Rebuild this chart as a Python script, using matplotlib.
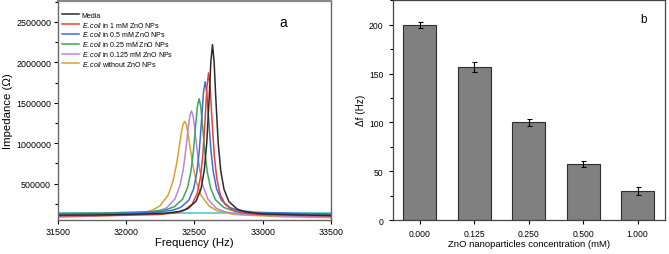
import matplotlib
matplotlib.use("Agg")
import matplotlib.pyplot as plt
from matplotlib.ticker import MultipleLocator

plt.rcParams["font.family"] = ["Liberation Sans", "DejaVu Sans"]
plt.rcParams["mathtext.fontset"] = "custom"
plt.rcParams["mathtext.it"] = "Liberation Sans:italic"
plt.rcParams["mathtext.rm"] = "Liberation Sans"

# --- panel a: impedance spectra (Hz, ohm) ---
media_f = [31500, 31912, 32272, 32392, 32452, 32512, 32548, 32572, 32590, 32608, 32620, 32632,
           32644, 32656, 32674, 32692, 32716, 32752, 32812, 32872, 32992, 33352, 33500]
media_z = [110000, 115000, 131000, 156000, 191000, 284000, 437000, 669000, 1005000, 1570000, 2009000, 2220000,
           2004000, 1565000, 1000000, 664000, 432000, 279000, 186000, 151000, 126000, 110000, 105000]

mm1_f = [31500, 31883, 32243, 32363, 32423, 32483, 32519, 32543, 32561, 32579, 32591, 32603,
         32615, 32627, 32645, 32663, 32687, 32723, 32783, 32843, 32963, 33323, 33500]
mm1_z = [100000, 104000, 118000, 139000, 168000, 246000, 374000, 569000, 850000, 1325000, 1693000, 1870000,
         1693000, 1325000, 850000, 569000, 374000, 246000, 168000, 139000, 118000, 104000, 100000]

mm05_f = [31500, 31858, 32218, 32338, 32398, 32458, 32494, 32518, 32536, 32554, 32566, 32578,
          32590, 32602, 32620, 32638, 32662, 32698, 32758, 32818, 32938, 33298, 33500]
mm05_z = [125000, 130000, 146000, 171000, 205000, 294000, 437000, 642000, 920000, 1340000, 1629000, 1760000,
          1629000, 1340000, 920000, 642000, 437000, 294000, 205000, 171000, 146000, 130000, 125000]

mm025_f = [31500, 31814, 32174, 32294, 32354, 32414, 32450, 32474, 32492, 32510, 32522, 32534,
           32546, 32558, 32576, 32594, 32618, 32654, 32714, 32774, 32894, 33254, 33500]
mm025_z = [130000, 136000, 153000, 180000, 216000, 310000, 455000, 652000, 901000, 1246000, 1462000, 1550000,
           1452000, 1236000, 891000, 642000, 445000, 300000, 206000, 170000, 143000, 126000, 120000]

mm0125_f = [31500, 31758, 32118, 32238, 32298, 32358, 32394, 32418, 32436, 32454, 32466, 32478,
            32490, 32502, 32520, 32538, 32562, 32598, 32658, 32718, 32838, 33198, 33500]
mm0125_z = [95000, 102000, 124000, 158000, 203000, 315000, 477000, 679000, 909000, 1186000, 1341000, 1400000,
            1336000, 1181000, 904000, 674000, 472000, 310000, 198000, 153000, 119000, 97000, 90000]

nozno_f = [31500, 31708, 32068, 32188, 32248, 32308, 32344, 32368, 32386, 32404, 32416, 32428,
           32440, 32452, 32470, 32488, 32512, 32548, 32608, 32668, 32788, 33148, 33500]
nozno_z = [85000, 95000, 124000, 168000, 226000, 360000, 538000, 735000, 930000, 1133000, 1234000, 1270000,
           1229000, 1128000, 925000, 730000, 533000, 355000, 221000, 163000, 119000, 90000, 80000]

flat_f = [31500, 33500]
flat_z = [135000, 135000]

series = [
    ("Media", media_f, media_z, "#2b2b2b"),
    (r"$\it{E.coli}$ in 1 mM ZnO NPs", mm1_f, mm1_z, "#e8403a"),
    (r"$\it{E.coli}$ in 0.5 mM ZnO NPs", mm05_f, mm05_z, "#3b6fd6"),
    (r"$\it{E.coli}$ in 0.25 mM ZnO NPs", mm025_f, mm025_z, "#3da65a"),
    (r"$\it{E.coli}$ in 0.125 mM ZnO NPs", mm0125_f, mm0125_z, "#b886e0"),
    (r"$\it{E.coli}$ without ZnO NPs", nozno_f, nozno_z, "#d9a22b"),
]

# --- panel b: frequency shift ---
conc = ["0.000", "0.125", "0.250", "0.500", "1.000"]
shift = [200, 157, 100, 57, 30]
shift_err = [3, 5, 4, 3, 4]

fig = plt.figure(figsize=(6.69, 2.55), dpi=100)
ax1 = fig.add_axes([0.0867, 0.1333, 0.408, 0.859])
ax2 = fig.add_axes([0.5867, 0.1333, 0.4073, 0.8647])

ax1.plot(flat_f, flat_z, color="#3fc6d6", lw=1.1)
for label, f, z, c in reversed(series):
    ax1.plot(f, z, color=c, lw=1.1, label=label)
handles, labels = ax1.get_legend_handles_labels()
ax1.legend(handles[::-1], labels[::-1], loc="upper left", frameon=False, fontsize=5.0,
           handlelength=2.4, handletextpad=0.4, labelspacing=0.12,
           borderaxespad=0.2, bbox_to_anchor=(0.0, 0.97))
ax1.set_xlim(31500, 33500)
ax1.set_ylim(50000, 2760000)
ax1.set_xticks([31500, 32000, 32500, 33000, 33500])
ax1.set_yticks([500000, 1000000, 1500000, 2000000, 2500000])
ax1.yaxis.set_minor_locator(MultipleLocator(250000))
ax1.ticklabel_format(style="plain", useOffset=False)
ax1.tick_params(labelsize=6.4, direction="out", length=3, width=0.8, pad=2)
ax1.tick_params(which="minor", length=2, width=0.8)
ax1.set_xlabel("Frequency (Hz)", fontsize=8.2, labelpad=1)
ax1.set_ylabel("Impedance (\u03a9)", fontsize=8.2, labelpad=2)
ax1.text(0.824, 0.905, "a", transform=ax1.transAxes, fontsize=10, ha="center", va="center")
for s in ax1.spines.values():
    s.set_color("#666666")
    s.set_linewidth(1.0)
ax1.spines["top"].set_linewidth(1.6)
ax1.spines["top"].set_color("#888888")

x = range(len(conc))
ax2.bar(x, shift, width=0.61, color="#808080", edgecolor="#2e2e2e", linewidth=0.8,
        yerr=shift_err, error_kw=dict(ecolor="black", elinewidth=0.8, capsize=1.8, capthick=0.8))
ax2.set_xlim(-0.5, 4.5)
ax2.set_ylim(0, 226)
ax2.set_xticks(list(x))
ax2.set_xticklabels(conc)
ax2.set_yticks([0, 50, 100, 150, 200])
ax2.yaxis.set_minor_locator(MultipleLocator(25))
ax2.tick_params(labelsize=6.2, direction="out", length=3, width=0.8)
ax2.tick_params(which="minor", length=2, width=0.8)
ax2.set_xlabel("ZnO nanoparticles concentration (mM)", fontsize=6.8, labelpad=1)
ax2.set_ylabel("\u0394f (Hz)", fontsize=7.2, labelpad=2)
ax2.text(0.92, 0.91, "b", transform=ax2.transAxes, fontsize=8.5, ha="center", va="center")
for s in ax2.spines.values():
    s.set_color("#444444")
    s.set_linewidth(0.9)

fig.savefig("out.png", dpi=100)
